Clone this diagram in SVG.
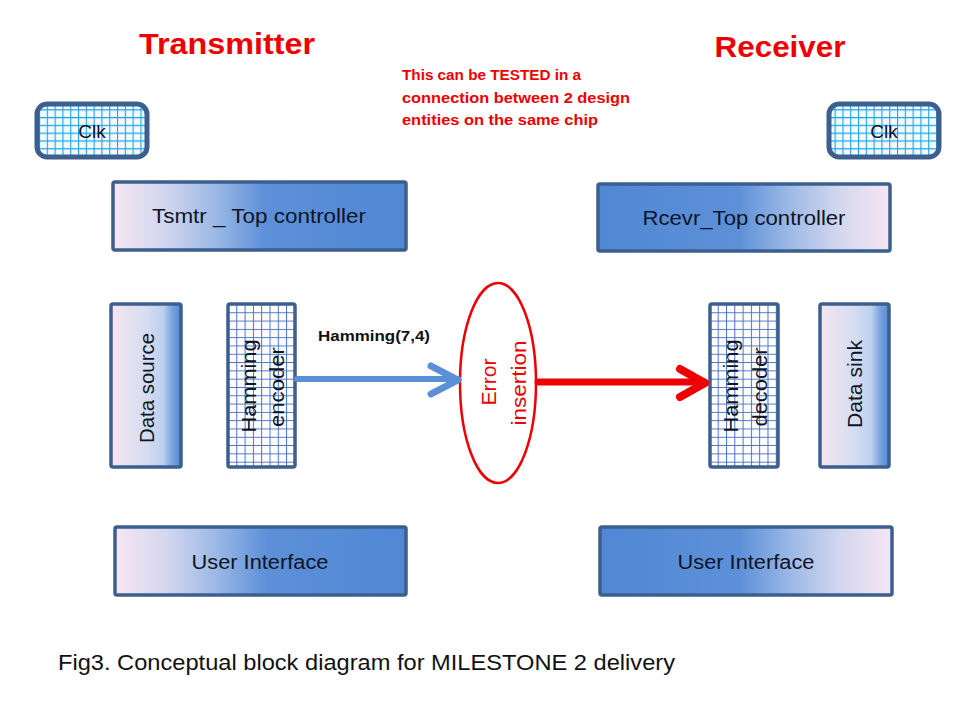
<svg xmlns="http://www.w3.org/2000/svg" width="960" height="720" viewBox="0 0 960 720">
<defs>
  <linearGradient id="gL" x1="0" y1="0" x2="1" y2="0">
    <stop offset="0" stop-color="#F6E6F3"/>
    <stop offset="0.18" stop-color="#D2D6EE"/>
    <stop offset="0.35" stop-color="#9BB8E6"/>
    <stop offset="0.52" stop-color="#5D90D8"/>
    <stop offset="1" stop-color="#5088D4"/>
  </linearGradient>
  <linearGradient id="gR" x1="1" y1="0" x2="0" y2="0">
    <stop offset="0" stop-color="#F6E6F3"/>
    <stop offset="0.18" stop-color="#D2D6EE"/>
    <stop offset="0.35" stop-color="#9BB8E6"/>
    <stop offset="0.52" stop-color="#5D90D8"/>
    <stop offset="1" stop-color="#5088D4"/>
  </linearGradient>
  <linearGradient id="gV" x1="0" y1="0" x2="1" y2="0">
    <stop offset="0" stop-color="#F6E6F1"/>
    <stop offset="0.5" stop-color="#D5DDF1"/>
    <stop offset="0.75" stop-color="#BCCFEE"/>
    <stop offset="0.86" stop-color="#7FA6E2"/>
    <stop offset="1" stop-color="#5088D4"/>
  </linearGradient>
  <pattern id="gridB" x="228" y="304" width="8.3" height="8.3" patternUnits="userSpaceOnUse">
    <rect width="8.3" height="8.3" fill="#FFFFFF"/>
    <path d="M0 0.5 H8.3 M0.5 0 V8.3" stroke="#4A70C0" stroke-width="1" fill="none"/>
  </pattern>
  <pattern id="gridC" width="7.8" height="7.8" patternUnits="userSpaceOnUse">
    <rect width="7.8" height="7.8" fill="#F2FBFF"/>
    <path d="M0 0.5 H7.8 M0.5 0 V7.8" stroke="#1FA2E6" stroke-width="1.2" fill="none"/>
  </pattern>
</defs>
<style>
  .box { stroke: #3D5F8E; stroke-width: 3.5; }
  .clk { stroke: #3D5F8E; stroke-width: 5; fill: url(#gridC); }
  .t { font-family: "Liberation Sans", Arial, sans-serif; fill: #0E1525; text-anchor: middle; }
  .red { font-family: "Liberation Sans", Arial, sans-serif; fill: #EE0000; font-weight: bold; }
</style>
<rect width="960" height="720" fill="#FFFFFF"/>

<text class="red" x="227" y="54" font-size="30" text-anchor="middle" textLength="176" lengthAdjust="spacingAndGlyphs">Transmitter</text>
<text class="red" x="780" y="57" font-size="30" text-anchor="middle" textLength="131" lengthAdjust="spacingAndGlyphs">Receiver</text>

<g id="note">
  <text class="red" x="402" y="80" font-size="14" textLength="179" lengthAdjust="spacingAndGlyphs">This can be TESTED in a</text>
  <text class="red" x="402" y="103" font-size="14" textLength="228" lengthAdjust="spacingAndGlyphs">connection between 2 design</text>
  <text class="red" x="402" y="125" font-size="14" textLength="196" lengthAdjust="spacingAndGlyphs">entities on the same chip</text>
</g>

<g id="clk-tx">
  <rect class="clk" x="37" y="104" width="110" height="53" rx="10"/>
  <text class="t" x="92" y="138" font-size="19">Clk</text>
</g>
<g id="clk-rx">
  <rect class="clk" x="829" y="104" width="110" height="53" rx="10"/>
  <text class="t" x="884" y="138" font-size="19">Clk</text>
</g>

<g id="tsmtr-top">
  <rect class="box" x="113" y="182" width="293" height="68" rx="2" fill="url(#gL)"/>
  <text class="t" x="259" y="223" font-size="20" textLength="214" lengthAdjust="spacingAndGlyphs">Tsmtr _ Top controller</text>
</g>
<g id="rcevr-top">
  <rect class="box" x="598" y="184" width="292" height="67" rx="2" fill="url(#gR)"/>
  <text class="t" x="744" y="225" font-size="20" textLength="203" lengthAdjust="spacingAndGlyphs">Rcevr_Top controller</text>
</g>

<g id="data-source">
  <rect class="box" x="111" y="304" width="70" height="163" rx="2" fill="url(#gV)"/>
  <text class="t" font-size="20" transform="translate(154,388) rotate(-90)" textLength="110" lengthAdjust="spacingAndGlyphs">Data source</text>
</g>
<g id="hamming-encoder">
  <rect class="box" x="228" y="304" width="67" height="163" rx="2" fill="url(#gridB)"/>
  <text class="t" font-size="20" transform="translate(256,386) rotate(-90)" textLength="93" lengthAdjust="spacingAndGlyphs">Hamming</text>
  <text class="t" font-size="20" transform="translate(284,387) rotate(-90)" textLength="80" lengthAdjust="spacingAndGlyphs">encoder</text>
</g>
<g id="hamming-decoder">
  <rect class="box" x="710" y="304" width="68" height="163" rx="2" fill="url(#gridB)"/>
  <text class="t" font-size="20" transform="translate(738,386) rotate(-90)" textLength="93" lengthAdjust="spacingAndGlyphs">Hamming</text>
  <text class="t" font-size="20" transform="translate(767,387) rotate(-90)" textLength="79" lengthAdjust="spacingAndGlyphs">decoder</text>
</g>
<g id="data-sink">
  <rect class="box" x="820" y="304" width="69" height="163" rx="2" fill="url(#gV)"/>
  <text class="t" font-size="20" transform="translate(862,384) rotate(-90)" textLength="88" lengthAdjust="spacingAndGlyphs">Data sink</text>
</g>

<g id="error-insertion">
  <ellipse cx="498" cy="383" rx="38" ry="100" fill="#FFFFFF" stroke="#EE0000" stroke-width="2.5"/>
  <text font-family="Liberation Sans, Arial, sans-serif" fill="#EE0000" text-anchor="middle" font-size="20" transform="translate(496,382) rotate(-90)" textLength="47" lengthAdjust="spacingAndGlyphs">Error</text>
  <text font-family="Liberation Sans, Arial, sans-serif" fill="#EE0000" text-anchor="middle" font-size="20" transform="translate(526,383) rotate(-90)" textLength="85" lengthAdjust="spacingAndGlyphs">insertion</text>
</g>

<g id="user-if-tx">
  <rect class="box" x="115" y="527" width="291" height="68" rx="2" fill="url(#gL)"/>
  <text class="t" x="260" y="569" font-size="20" textLength="137" lengthAdjust="spacingAndGlyphs">User Interface</text>
</g>
<g id="user-if-rx">
  <rect class="box" x="600" y="527" width="292" height="68" rx="2" fill="url(#gR)"/>
  <text class="t" x="746" y="569" font-size="20" textLength="137" lengthAdjust="spacingAndGlyphs">User Interface</text>
</g>

<g id="connectors" fill="none" stroke-linecap="round" stroke-linejoin="round">
  <path d="M297 379 H458" stroke="#5B8FD6" stroke-width="6"/>
  <path d="M431 366 L458 380 L431 394" stroke="#5B8FD6" stroke-width="7"/>
  <path d="M538 382 H704" stroke="#EE0000" stroke-width="7"/>
  <path d="M680 369 L705 383 L680 397" stroke="#EE0000" stroke-width="8"/>
</g>
<text x="318" y="341" font-family="Liberation Sans, Arial, sans-serif" font-weight="bold" font-size="14" fill="#111" textLength="112" lengthAdjust="spacingAndGlyphs">Hamming(7,4)</text>

<text x="58" y="670" font-family="Liberation Sans, Arial, sans-serif" font-size="22" fill="#111" textLength="617" lengthAdjust="spacingAndGlyphs">Fig3. Conceptual block diagram for MILESTONE 2 delivery</text>
</svg>
